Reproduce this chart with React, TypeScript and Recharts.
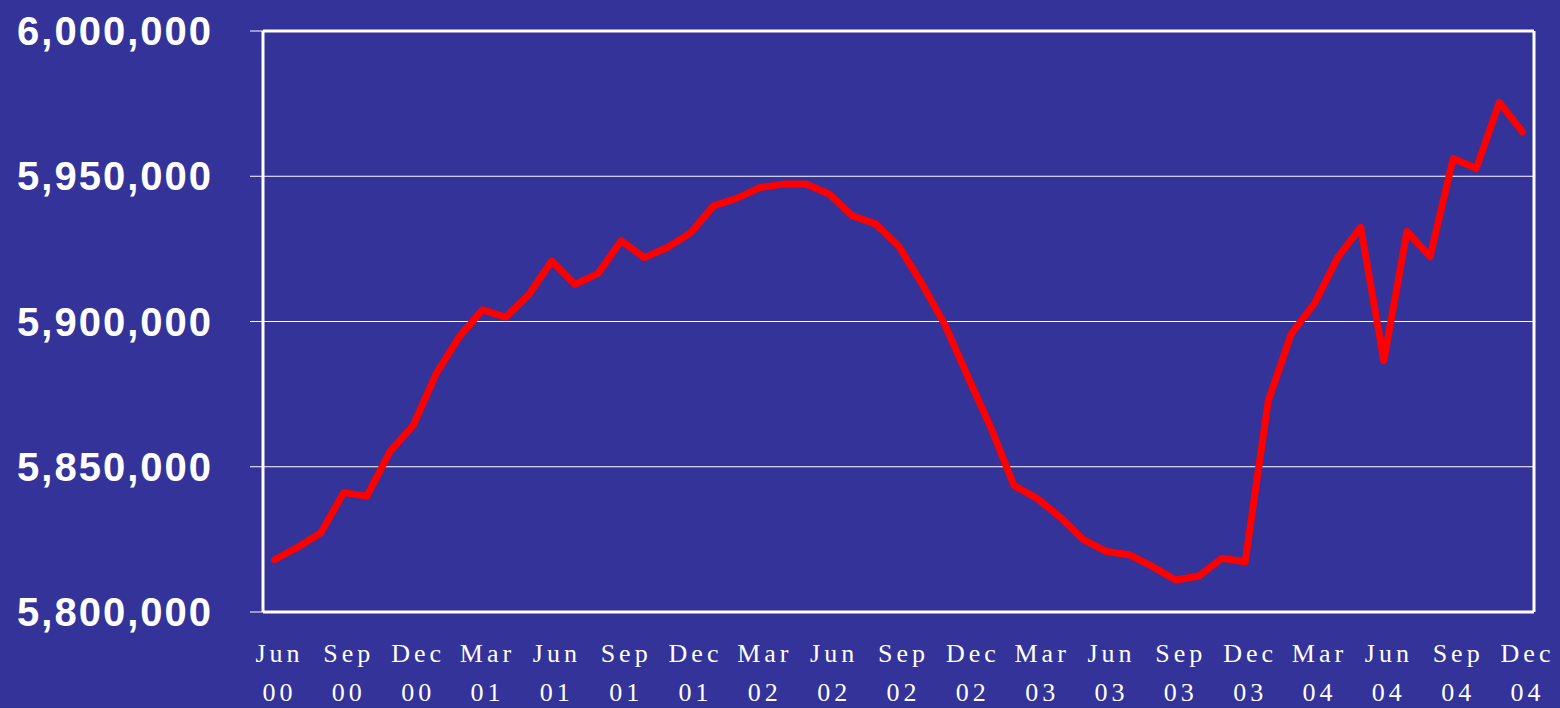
import React from "react";
import {
  LineChart,
  Line,
  XAxis,
  YAxis,
  CartesianGrid,
  ReferenceLine,
} from "recharts";

const months: string[] = [
  "Jun 00", "Jul 00", "Aug 00", "Sep 00", "Oct 00", "Nov 00", "Dec 00",
  "Jan 01", "Feb 01", "Mar 01", "Apr 01", "May 01", "Jun 01", "Jul 01",
  "Aug 01", "Sep 01", "Oct 01", "Nov 01", "Dec 01",
  "Jan 02", "Feb 02", "Mar 02", "Apr 02", "May 02", "Jun 02", "Jul 02",
  "Aug 02", "Sep 02", "Oct 02", "Nov 02", "Dec 02",
  "Jan 03", "Feb 03", "Mar 03", "Apr 03", "May 03", "Jun 03", "Jul 03",
  "Aug 03", "Sep 03", "Oct 03", "Nov 03", "Dec 03",
  "Jan 04", "Feb 04", "Mar 04", "Apr 04", "May 04", "Jun 04", "Jul 04",
  "Aug 04", "Sep 04", "Oct 04", "Nov 04", "Dec 04",
];

const values: number[] = [
  5818000, 5822300, 5827200, 5841100, 5839900, 5855300, 5864200,
  5882100, 5894800, 5904000, 5901500, 5909200, 5920800, 5912800,
  5916500, 5927800, 5922000, 5925500, 5930500,
  5939800, 5942400, 5946100, 5947300, 5947300, 5943900, 5936400,
  5933600, 5926100, 5913200, 5899000, 5881000,
  5863400, 5843500, 5839100, 5832600, 5824900, 5820800, 5819700,
  5815600, 5811000, 5812400, 5818500, 5817300,
  5872700, 5895800, 5906200, 5922000, 5932400, 5886500, 5931000,
  5922300, 5956100, 5952700, 5975400, 5965300,
];

const yTicks: number[] = [5800000, 5850000, 5900000, 5950000, 6000000];

const data = months.map((m, i) => ({ month: m, value: values[i] }));

const BG = "#333399";

function XTick(props: any) {
  const { x, y, payload } = props;
  const parts = String(payload.value).split(" ");
  return (
    <text
      x={x + 5}
      y={y + 50}
      fill="#ffffff"
      textAnchor="middle"
      fontFamily="'Liberation Serif', 'Times New Roman', serif"
      fontSize={26}
      letterSpacing={4}
    >
      <tspan x={x + 5}>{parts[0]}</tspan>
      <tspan x={x + 5} dy={39}>
        {parts[1]}
      </tspan>
    </text>
  );
}

function YTick(props: any) {
  const { x, y, payload } = props;
  return (
    <text
      x={x}
      y={y}
      dy="0.355em"
      fill="#ffffff"
      textAnchor="end"
      fontFamily="'Liberation Sans', Arial, sans-serif"
      fontWeight="bold"
      fontSize={40}
      letterSpacing={2}
    >
      {Number(payload.value).toLocaleString("en-US")}
    </text>
  );
}

const rightEdge = (p: any) => {
  const o = p.offset;
  return [o.left + o.width];
};

export default function App() {
  return (
    <div
      style={{
        position: "absolute",
        left: 0,
        top: 0,
        width: 1560,
        height: 708,
        background: BG,
        overflow: "hidden",
      }}
    >
      <LineChart
        width={1560}
        height={708}
        data={data}
        margin={{ top: 31, right: 26, bottom: 0, left: 0 }}
      >
        <CartesianGrid vertical={false} stroke="#ffffff" strokeWidth={1} />
        <CartesianGrid
          horizontal={false}
          verticalCoordinatesGenerator={rightEdge}
          stroke="#ffffff"
          strokeWidth={3}
        />
        <XAxis
          dataKey="month"
          interval={2}
          height={96}
          tickLine={false}
          tickSize={0}
          tickMargin={0}
          axisLine={{ stroke: "#ffffff", strokeWidth: 3 }}
          padding={{ left: 11.5, right: 11.5 }}
          tick={<XTick />}
        />
        <YAxis
          width={263}
          domain={[5800000, 6000000]}
          ticks={yTicks}
          type="number"
          allowDataOverflow
          axisLine={{ stroke: "#ffffff", strokeWidth: 3 }}
          tickLine={{ stroke: "#ffffff", strokeWidth: 1 }}
          tickSize={13}
          tickMargin={37}
          tick={<YTick />}
        />
        <ReferenceLine y={6000000} stroke="#ffffff" strokeWidth={3} />
        <Line
          type="linear"
          dataKey="value"
          stroke="#ff0000"
          strokeWidth={7}
          strokeLinejoin="round"
          strokeLinecap="round"
          dot={false}
          activeDot={false}
          isAnimationActive={false}
        />
      </LineChart>
    </div>
  );
}
